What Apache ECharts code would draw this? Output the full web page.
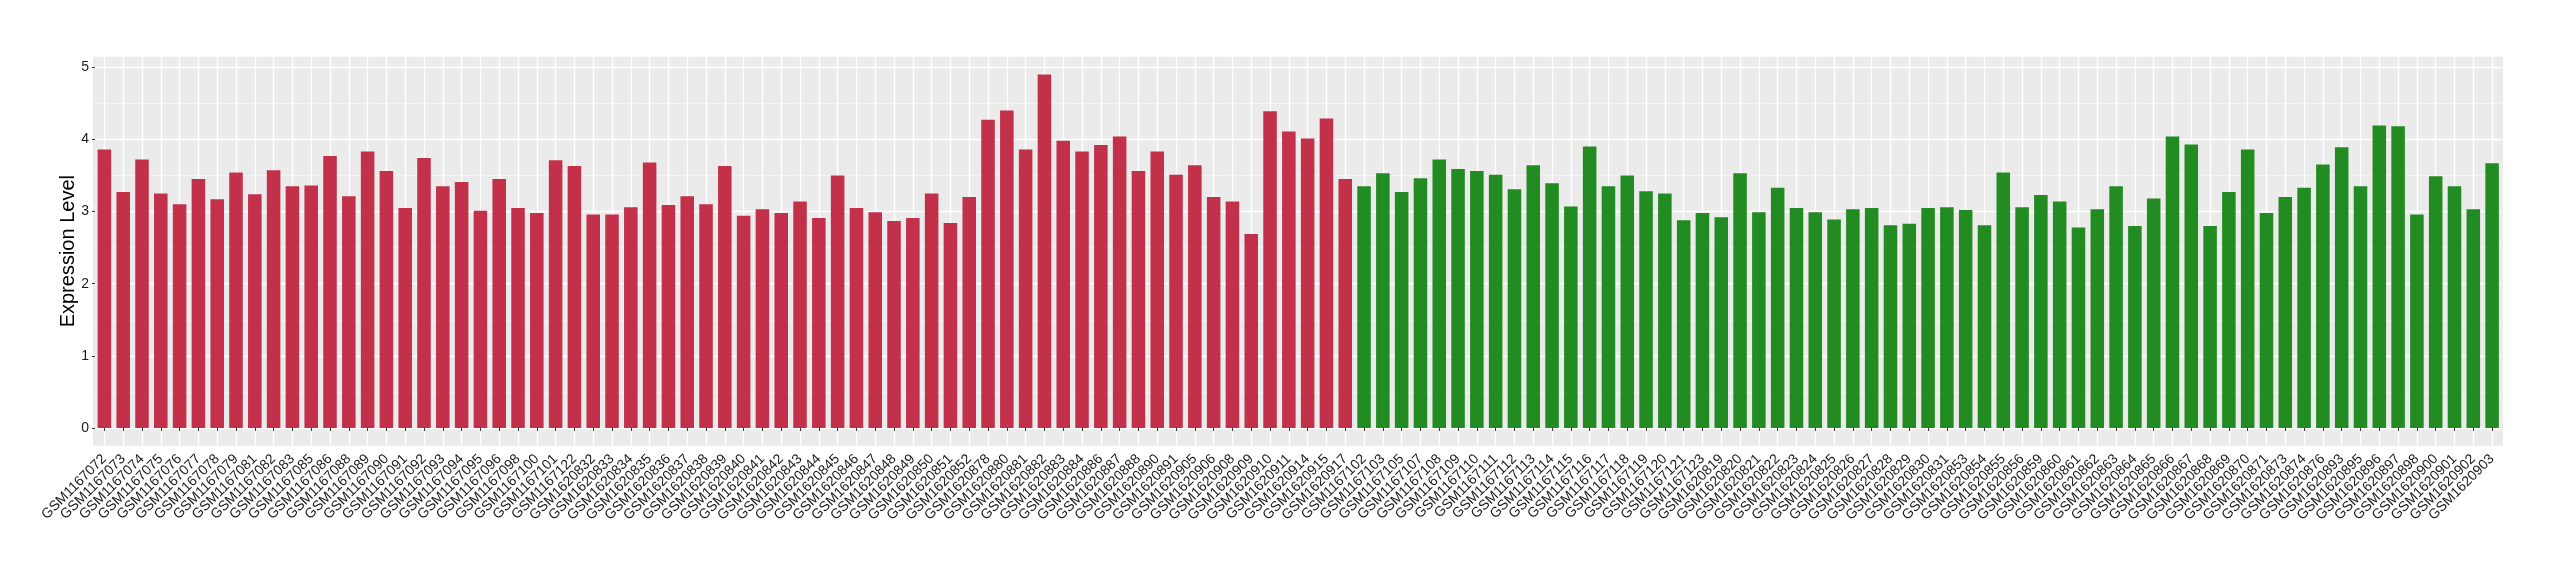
<!DOCTYPE html>
<html>
<head>
<meta charset="utf-8">
<script src="https://cdn.jsdelivr.net/npm/echarts@6/dist/echarts.min.js"></script>
<style>html,body{margin:0;padding:0;background:#fff}#c{width:2560px;height:580px}</style>
</head>
<body>
<div id="c"></div>
<script>
// Group 1 (red)
const redSamples = ["GSM1167072","GSM1167073","GSM1167074","GSM1167075","GSM1167076","GSM1167077","GSM1167078","GSM1167079","GSM1167081","GSM1167082","GSM1167083","GSM1167085","GSM1167086","GSM1167088","GSM1167089","GSM1167090","GSM1167091","GSM1167092","GSM1167093","GSM1167094","GSM1167095","GSM1167096","GSM1167098","GSM1167100","GSM1167101","GSM1167122","GSM1620832","GSM1620833","GSM1620834","GSM1620835","GSM1620836","GSM1620837","GSM1620838","GSM1620839","GSM1620840","GSM1620841","GSM1620842","GSM1620843","GSM1620844","GSM1620845","GSM1620846","GSM1620847","GSM1620848","GSM1620849","GSM1620850","GSM1620851","GSM1620852","GSM1620878","GSM1620880","GSM1620881","GSM1620882","GSM1620883","GSM1620884","GSM1620886","GSM1620887","GSM1620888","GSM1620890","GSM1620891","GSM1620905","GSM1620906","GSM1620908","GSM1620909","GSM1620910","GSM1620911","GSM1620914","GSM1620915","GSM1620917"];
const redValues = [3.86,3.27,3.72,3.25,3.10,3.45,3.17,3.54,3.24,3.57,3.35,3.36,3.77,3.21,3.83,3.56,3.05,3.74,3.35,3.41,3.01,3.45,3.05,2.98,3.71,3.63,2.96,2.96,3.06,3.68,3.09,3.21,3.10,3.63,2.94,3.03,2.98,3.14,2.91,3.50,3.05,2.99,2.87,2.91,3.25,2.84,3.20,4.27,4.40,3.86,4.90,3.98,3.83,3.92,4.04,3.56,3.83,3.51,3.64,3.20,3.14,2.69,4.39,4.11,4.01,4.29,3.45];
// Group 2 (green)
const greenSamples = ["GSM1167102","GSM1167103","GSM1167105","GSM1167107","GSM1167108","GSM1167109","GSM1167110","GSM1167111","GSM1167112","GSM1167113","GSM1167114","GSM1167115","GSM1167116","GSM1167117","GSM1167118","GSM1167119","GSM1167120","GSM1167121","GSM1167123","GSM1620819","GSM1620820","GSM1620821","GSM1620822","GSM1620823","GSM1620824","GSM1620825","GSM1620826","GSM1620827","GSM1620828","GSM1620829","GSM1620830","GSM1620831","GSM1620853","GSM1620854","GSM1620855","GSM1620856","GSM1620859","GSM1620860","GSM1620861","GSM1620862","GSM1620863","GSM1620864","GSM1620865","GSM1620866","GSM1620867","GSM1620868","GSM1620869","GSM1620870","GSM1620871","GSM1620873","GSM1620874","GSM1620876","GSM1620893","GSM1620895","GSM1620896","GSM1620897","GSM1620898","GSM1620900","GSM1620901","GSM1620902","GSM1620903"];
const greenValues = [3.35,3.53,3.27,3.46,3.72,3.59,3.56,3.51,3.31,3.64,3.39,3.07,3.90,3.35,3.50,3.28,3.25,2.88,2.98,2.92,3.53,2.99,3.33,3.05,2.99,2.89,3.03,3.05,2.81,2.83,3.05,3.06,3.02,2.81,3.54,3.06,3.23,3.14,2.78,3.03,3.35,2.80,3.18,4.04,3.93,2.80,3.27,3.86,2.98,3.20,3.33,3.65,3.89,3.35,4.19,4.18,2.96,3.49,3.35,3.03,3.67];
const yMajorTicks = [0,1,2,3,4,5];
const yMinorTicks = [0.5,1.5,2.5,3.5,4.5];

const categories = redSamples.concat(greenSamples);
const redData = redValues.concat(greenSamples.map(() => '-'));
const greenData = redSamples.map(() => '-').concat(greenValues);

const chart = echarts.init(document.getElementById('c'), null, {renderer: 'canvas'});
const font = 'Liberation Sans, Arial, Helvetica, sans-serif';
chart.setOption({
  animation: false,
  backgroundColor: '#ffffff',
  graphic: [{type: 'rect', silent: true, z: -10, shape: {x: 93, y: 56.7, width: 2410, height: 389}, style: {fill: '#EBEBEB'}}],
  grid: {left: 95, right: 58.5, top: 56.7, bottom: 134.3, show: false, containLabel: false},
  xAxis: {
    type: 'category',
    data: categories,
    axisLine: {show: false},
    axisTick: {show: true, alignWithLabel: true, interval: 0, length: 3, lineStyle: {color: '#333333', width: 1}},
    axisLabel: {interval: 0, rotate: 45, margin: 11, fontSize: 14, color: '#1a1a1a', fontFamily: font},
    splitLine: {show: true, alignWithLabel: true, interval: 0, lineStyle: {color: '#ffffff', width: 1.4}}
  },
  yAxis: [
    {
      type: 'value', min: -0.245, max: 5.145, interval: 1,
      name: 'Expression Level', nameLocation: 'middle', nameGap: 17, nameMoveOverlap: false,
      nameTextStyle: {fontSize: 20, color: '#000', fontFamily: font},
      axisLine: {show: false},
      axisTick: {show: true, length: 3, customValues: yMajorTicks, lineStyle: {color: '#333333'}},
      axisLabel: {customValues: yMajorTicks, margin: 6, fontSize: 14, color: '#1a1a1a', fontFamily: font},
      splitLine: {show: true, lineStyle: {color: '#ffffff', width: 1.4}}
    },
    {
      type: 'value', min: -0.245, max: 5.145, interval: 0.5, position: 'right',
      axisLine: {show: false},
      axisTick: {show: false, customValues: yMinorTicks},
      axisLabel: {show: false, customValues: yMinorTicks},
      splitLine: {show: true, lineStyle: {color: '#F6F6F6', width: 0.8}}
    }
  ],
  series: [
    {type: 'bar', data: redData, barWidth: '72%', barGap: '-100%', itemStyle: {color: '#C3304A'}},
    {type: 'bar', data: greenData, barWidth: '72%', barGap: '-100%', itemStyle: {color: '#228B22'}}
  ]
});
</script>
</body>
</html>
